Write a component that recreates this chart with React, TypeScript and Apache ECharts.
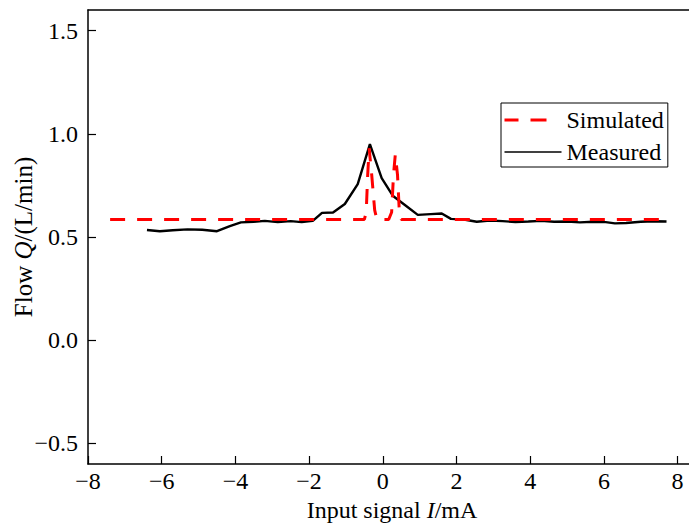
import React, { useEffect, useRef } from "react";
import * as echarts from "echarts";

const simulated: [number, number][] = [
  [-7.4, 0.585], [-0.5, 0.585], [-0.45, 0.62], [-0.41, 0.8], [-0.37, 0.93],
  [-0.3, 0.8], [-0.22, 0.63], [-0.16, 0.585], [0.16, 0.585], [0.24, 0.62],
  [0.29, 0.8], [0.34, 0.9], [0.4, 0.8], [0.45, 0.62], [0.5, 0.585], [7.56, 0.585],
];

const measured: [number, number][] = [
  [-6.4, 0.534], [-6.05, 0.528], [-5.7, 0.533], [-5.3, 0.537], [-4.9, 0.535],
  [-4.5, 0.528], [-4.15, 0.553], [-3.85, 0.571], [-3.5, 0.574], [-3.2, 0.578],
  [-2.85, 0.572], [-2.5, 0.577], [-2.2, 0.572], [-1.9, 0.578], [-1.65, 0.617],
  [-1.35, 0.619], [-1.03, 0.66], [-0.68, 0.756], [-0.35, 0.95], [-0.03, 0.785],
  [0.27, 0.7], [0.6, 0.655], [0.95, 0.607], [1.3, 0.611], [1.6, 0.614],
  [1.85, 0.588], [2.2, 0.585], [2.55, 0.574], [2.9, 0.58], [3.25, 0.577],
  [3.6, 0.573], [3.95, 0.575], [4.3, 0.578], [4.65, 0.574], [5.0, 0.575],
  [5.35, 0.571], [5.7, 0.574], [6.05, 0.572], [6.3, 0.566], [6.6, 0.568],
  [7.0, 0.574], [7.35, 0.576], [7.7, 0.575],
];

const xTicks = [-8, -6, -4, -2, 0, 2, 4, 6, 8];
const yTicks = [-0.5, 0, 0.5, 1.0, 1.5];
const seriesNames = ["Simulated", "Measured"];

const FONT = "Liberation Serif";
const FS = 24;

const fmtX = (v: number) => (v < 0 ? "\u2212" + Math.abs(v) : String(v));
const fmtY = (v: number) => (v < 0 ? "\u2212" + Math.abs(v).toFixed(1) : v.toFixed(1));

export default function App() {
  const ref = useRef<HTMLDivElement>(null);
  useEffect(() => {
    if (!ref.current) return;
    const chart = echarts.init(ref.current, null, { renderer: "svg" });
    chart.setOption({
      animation: false,
      backgroundColor: "#fff",
      grid: {
        left: 88,
        top: 10,
        width: 608,
        height: 454,
        containLabel: false,
        outerBoundsMode: "none",
        show: false,
      },
      legend: {
        orient: "vertical",
        left: 501,
        top: 103,
        padding: [5, 4, 3, 2],
        borderColor: "#000",
        borderWidth: 1,
        itemWidth: 57,
        itemHeight: 14,
        itemGap: 8,
        textStyle: { fontFamily: FONT, fontSize: FS, color: "#000", lineHeight: 24 },
        data: [
          {
            name: seriesNames[0],
            itemStyle: { opacity: 0 },
            lineStyle: { type: [14, 12, 16, 100], width: 3, color: "#ff0000" },
          },
          {
            name: seriesNames[1],
            itemStyle: { opacity: 0 },
            lineStyle: { width: 1.5, color: "#000" },
          },
        ],
      },
      xAxis: [
        {
          type: "value",
          min: -8,
          max: 8.5,
          name: "{a|Input signal }{i|I}{a|/mA}",
          nameLocation: "middle",
          nameGap: 30,
          nameTextStyle: {
            rich: {
              a: { fontFamily: FONT, fontSize: FS, color: "#000" },
              i: { fontFamily: FONT, fontSize: FS, color: "#000", fontStyle: "italic" },
            },
          },
          splitLine: { show: false },
          axisLine: { onZero: false, lineStyle: { color: "#000", width: 1.5 } },
          axisTick: { inside: true, length: 8, customValues: xTicks, lineStyle: { color: "#000", width: 1.2 } },
          axisLabel: {
            customValues: xTicks,
            formatter: fmtX,
            fontFamily: FONT,
            fontSize: FS,
            color: "#000",
            margin: 5,
          },
        },
        {
          type: "value",
          position: "top",
          min: -8,
          max: 8.5,
          splitLine: { show: false },
          axisLine: { onZero: false, lineStyle: { color: "#000", width: 1.5 } },
          axisTick: { show: false },
          axisLabel: { show: false },
        },
      ],
      yAxis: {
        type: "value",
        min: -0.6,
        max: 1.6,
        name: "{a|Flow }{i|Q}{a|/(L/min)}",
        nameLocation: "middle",
        nameGap: 52,
        nameMoveOverlap: false,
        nameTextStyle: {
          rich: {
            a: { fontFamily: FONT, fontSize: 25, color: "#000" },
            i: { fontFamily: FONT, fontSize: 25, color: "#000", fontStyle: "italic" },
          },
        },
        splitLine: { show: false },
        axisLine: { onZero: false, lineStyle: { color: "#000", width: 1.5 } },
        axisTick: { inside: true, length: 8, customValues: yTicks, lineStyle: { color: "#000", width: 1.2 } },
        axisLabel: {
          customValues: yTicks,
          formatter: fmtY,
          fontFamily: FONT,
          fontSize: FS,
          color: "#000",
          margin: 10,
        },
      },
      series: [
        {
          name: seriesNames[0],
          type: "line",
          data: simulated,
          symbol: "none",
          z: 3,
          lineStyle: { color: "#ff0000", width: 3, type: [15, 12] },
          itemStyle: { color: "#ff0000" },
        },
        {
          name: seriesNames[1],
          type: "line",
          data: measured,
          symbol: "none",
          z: 2,
          lineStyle: { color: "#000", width: 2.4 },
          itemStyle: { color: "#000" },
        },
      ],
    });
    return () => chart.dispose();
  }, []);
  return <div ref={ref} style={{ width: 689, height: 524, position: "absolute", left: 0, top: 0 }} />;
}
